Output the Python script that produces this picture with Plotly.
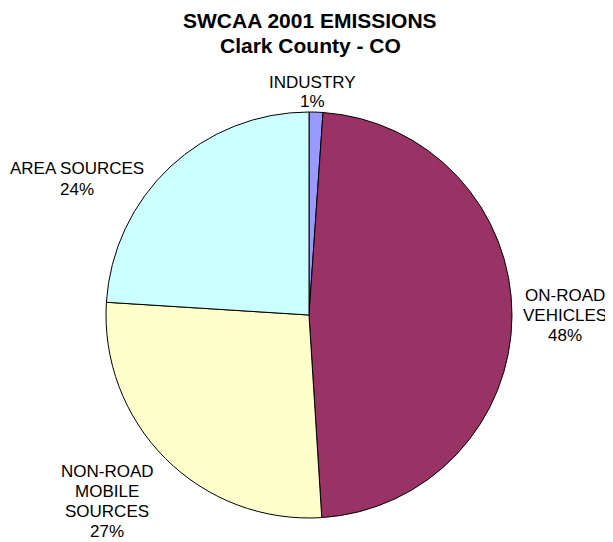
#!/usr/bin/env python3
"""SWCAA 2001 CO emissions pie for Clark County."""
import plotly.graph_objects as go

# source categories, clockwise from 12 o'clock
categories = ["INDUSTRY", "ON-ROAD VEHICLES", "NON-ROAD MOBILE SOURCES", "AREA SOURCES"]
label_lines = [["INDUSTRY"], ["ON-ROAD", "VEHICLES"], ["NON-ROAD", "MOBILE", "SOURCES"], ["AREA SOURCES"]]
shares = [1.1, 47.9, 27.0, 24.0]
colors = ["#9999FF", "#993366", "#FFFFCC", "#CCFFFF"]
title_lines = ["SWCAA 2001 EMISSIONS", "Clark County - CO"]

OFF = 8  # page body margin pushes the figure 8px right/down
W, H = 613 - OFF, 542 - OFF
FONT = "Liberation Sans, Arial"
# first line centre of each label block (x, y from top of window), line step in px
label_pos = [(312, 82), (565, 295), (107, 471), (77, 169)]
STEP = 20


def px(x):
    return (x - OFF) / W


def py(y):
    return 1 - (y - OFF) / H


cx, cy, r = 309, 315, 203

fig = go.Figure()
fig.add_trace(go.Pie(
    labels=categories,
    values=shares,
    sort=False,
    direction="clockwise",
    rotation=0,
    marker=dict(colors=colors, line=dict(color="#000000", width=1)),
    textinfo="none",
    hoverinfo="label+percent",
    showlegend=False,
    domain=dict(x=[px(cx - r), px(cx + r)], y=[py(cy + r), py(cy - r)]),
))

total = sum(shares)
for lines, v, (x0, y0) in zip(label_lines, shares, label_pos):
    for i, line in enumerate(lines + [f"{round(100 * v / total):.0f}%"]):
        fig.add_annotation(
            x=px(x0), y=py(y0 + i * STEP), xref="paper", yref="paper",
            text=line, showarrow=False, xanchor="center", yanchor="middle",
            font=dict(family=FONT, size=17, color="#000000"),
        )

for i, line in enumerate(title_lines):
    fig.add_annotation(
        x=px(310), y=py(20 + i * 25), xref="paper", yref="paper",
        text=f"<b>{line}</b>", showarrow=False, xanchor="center", yanchor="middle",
        font=dict(family=FONT, size=21, color="#000000"),
    )

fig.update_layout(
    width=W, height=H,
    margin=dict(l=0, r=0, t=0, b=0),
    paper_bgcolor="white",
    plot_bgcolor="white",
)

fig.write_html("out.html")
